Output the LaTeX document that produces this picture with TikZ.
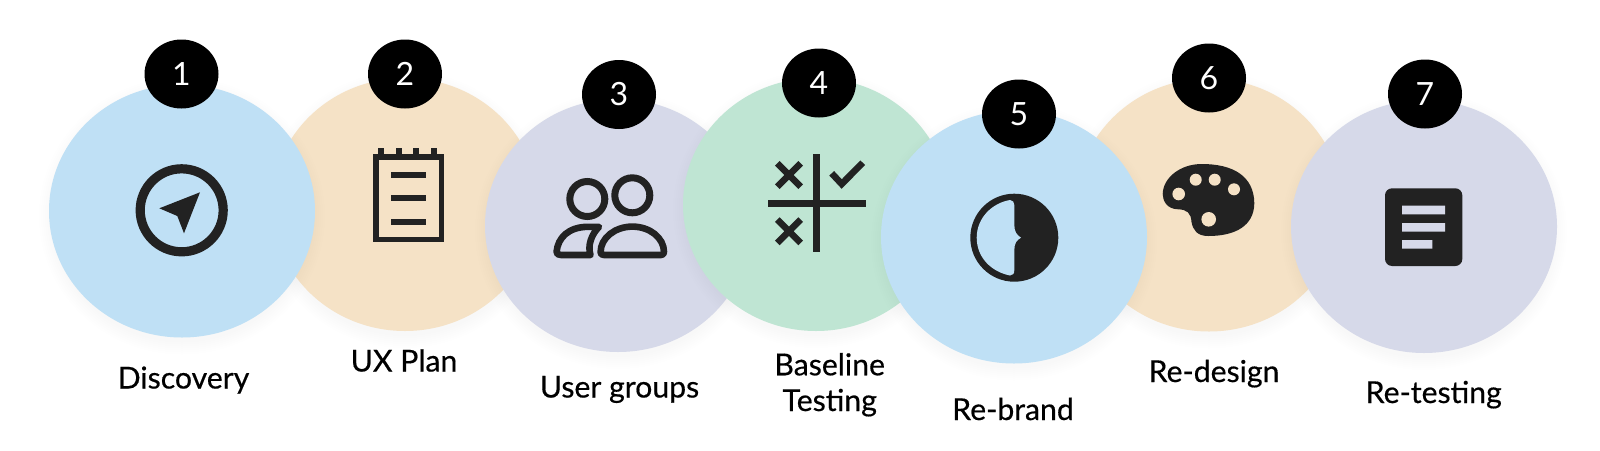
\documentclass[tikz,border=0pt]{standalone}
\usepackage{fontspec}
\setmainfont{Lato}
\newfontfamily\labelfont[RawFeature={embolden=0.45}]{Lato}
\usetikzlibrary{shapes.geometric}
\definecolor{cblue}{HTML}{BFE0F5}
\definecolor{ctan}{HTML}{F5E2C6}
\definecolor{clav}{HTML}{D6D9E9}
\definecolor{cgreen}{HTML}{BFE5D3}
\definecolor{ink}{HTML}{222222}
\tikzset{
  blob/.style={ellipse,inner sep=0pt,minimum width=266*0.5pt,minimum height=253*0.5pt,fill=#1},
  badge/.style={ellipse,inner sep=0pt,minimum width=74*0.5pt,minimum height=69*0.5pt,fill=black,text=white,font=\fontsize{16}{18}\selectfont},
  steplabel/.style={inner sep=0pt,align=center,text=black,anchor=base,font=\labelfont\fontsize{15.1}{17.85}\selectfont},
  icon/.style={draw=ink,line cap=butt,line join=miter},
  iconfill/.style={fill=ink,draw=none}
}
\newcommand{\softblob}[4]{%
  \foreach \g in {2,4,...,14}{
    \fill[black,opacity=0.004] (#2,#3+5) ellipse[x radius=133+\g-4,y radius=126.5+\g-2];
  }
  \node[blob=#4] (#1) at (#2,#3) {};
}
\begin{document}
\begin{tikzpicture}[x=0.5pt,y=-0.5pt]
\useasboundingbox (0,0) rectangle (1600,450);
\fill[white] (0,0) rectangle (1600,450);
\softblob{c2}{405}{204.5}{ctan}
\softblob{c1}{182}{211}{cblue}
\softblob{c3}{618}{225.5}{clav}
\softblob{c4}{816}{204.5}{cgreen}
\softblob{c6}{1209}{205}{ctan}
\softblob{c5}{1014}{237}{cblue}
\softblob{c7}{1424}{226.5}{clav}

\node[badge] (b1) at (181.5,74) {1};
\node[badge] (b2) at (405,74) {2};
\node[badge] (b3) at (619,94.5) {3};
\node[badge] (b4) at (819,83) {4};
\node[badge] (b5) at (1019,114) {5};
\node[badge] (b6) at (1209,78) {6};
\node[badge] (b7) at (1425,94) {7};

\node[steplabel] (l1) at (183.5,388.5) {Discovery};
\node[steplabel] (l2) at (404,371.5) {UX Plan};
\node[steplabel] (l3) at (619.5,397.5) {User groups};
\node[steplabel] (l4) at (829.7,411) {Baseline\\Testing};
\node[steplabel] (l5) at (1013,420) {Re-brand};
\node[steplabel] (l6) at (1214,382) {Re-design};
\node[steplabel] (l7) at (1433.7,403) {Re-testing};

% compass
\draw[icon,line width=4.6pt] (181.7,210.3) circle[radius=41.5];
\fill[ink] (200,192.3) -- (159.3,208.3) -- (177.3,216) -- (184,233.3) -- cycle;

% notepad
\draw[icon,line width=2.8pt] (376,156.8) rectangle (441.3,239.5);
\foreach \x in {381,398.7,416.3,434.3}{\fill[ink] (\x-3,148.3) rectangle (\x+3,156);}
\foreach \y in {174.7,198.3,222}{\fill[ink] (391,\y-3) rectangle (426.3,\y+3);}

% users
\draw[icon,line width=3.5pt] (587.3,199) circle[radius=17.5];
\draw[icon,line width=3.5pt] (632.3,195.3) circle[radius=17.5];
\draw[icon,line width=3.3pt,line join=round]
  (604,255) .. controls (601.5,255) and (600.6,254) .. (600.6,252)
  .. controls (600.6,238) and (615,226.6) .. (632.3,226.6)
  .. controls (650,226.6) and (664,238) .. (664,252)
  .. controls (664,254) and (663,255) .. (661,255) -- cycle;
\draw[icon,line width=3.3pt,line join=round]
  (590.5,255) -- (561,255) .. controls (558,255) and (556.3,254) .. (556.6,251.5)
  .. controls (558,238) and (568,227) .. (588,226.8) -- (599,226.8)
  .. controls (591,235) and (587.5,246) .. (590.5,255) -- cycle;

% tic-tac-toe
\fill[ink] (813.3,154) rectangle (820,252.3);
\fill[ink] (767.7,199.8) rectangle (866,206.7);
\draw[icon,line width=3.3pt] (777.3,163.3) -- (800.7,186.7) (777.3,186.7) -- (800.7,163.3);
\draw[icon,line width=3.3pt] (777.3,219.6) -- (800.7,243) (777.3,243) -- (800.7,219.6);
\draw[icon,line width=3.3pt] (831.7,173.3) -- (841.7,184) -- (862.7,162.7);

% half-circle
\fill[ink] (1014.3,237.7) circle[radius=44];
\fill[cblue] (1010,200) .. controls (1013,200.5) and (1014.3,202) .. (1014.3,205)
  -- (1014.3,225) .. controls (1014.3,232) and (1017,235) .. (1021,237.7)
  .. controls (1017,240) and (1014.3,243) .. (1014.3,250)
  -- (1014.3,270) .. controls (1014.3,274) and (1013,275) .. (1010,275.5)
  .. controls (992,272) and (976.7,258) .. (976.7,237.7)
  .. controls (976.7,218) and (992,203) .. (1010,200) -- cycle;

% palette
\fill[ink] (1201.7,164) .. controls (1233,164) and (1254,176) .. (1254.3,203.3)
  .. controls (1254,226) and (1235,236) .. (1208.3,236)
  .. controls (1197,236) and (1193,230) .. (1191.5,222)
  .. controls (1191,213) and (1187,209.5) .. (1178,209.3)
  .. controls (1167,209) and (1162.7,201) .. (1162.7,194)
  .. controls (1163,178) and (1180,164) .. (1201.7,164) -- cycle;
\fill[ctan] (1178.7,194) circle[radius=6.3]
  (1195.7,179.7) circle[radius=6]
  (1214.7,179.7) circle[radius=6]
  (1234,189.3) circle[radius=6]
  (1208.7,219.3) circle[radius=7.3];

% document
\fill[ink,rounded corners=3.5pt] (1385,188.3) rectangle (1462.3,266);
\fill[clav] (1402,205.7) rectangle (1445,214.3)
  (1402,223) rectangle (1445,231.7)
  (1402,240) rectangle (1432.3,248.7);
\end{tikzpicture}
\end{document}
